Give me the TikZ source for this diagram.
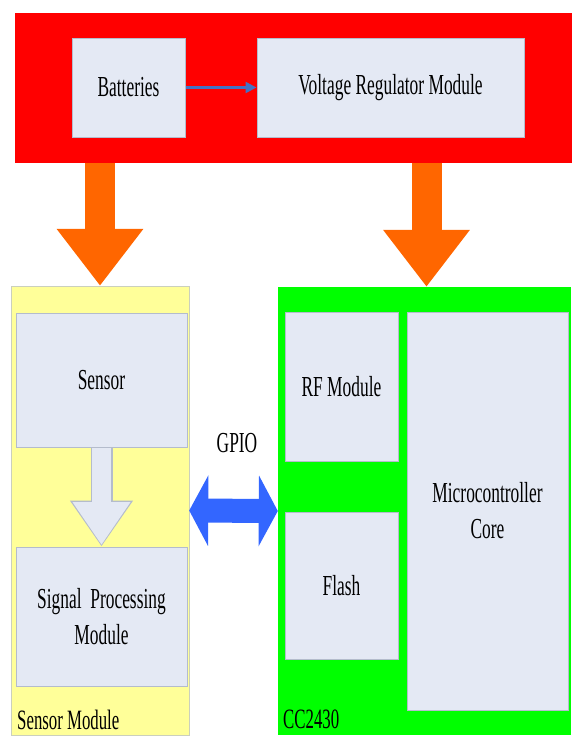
\documentclass[tikz,border=0pt]{standalone}
\usepackage{fontspec}
\setmainfont[FakeStretch=0.6]{Liberation Serif}
\usetikzlibrary{arrows.meta,calc}
\definecolor{boxfill}{RGB}{228,233,244}
\definecolor{boxline}{RGB}{180,188,204}
\definecolor{redbg}{RGB}{255,0,0}
\definecolor{yellowbg}{RGB}{255,255,153}
\definecolor{greenbg}{RGB}{0,255,0}
\definecolor{orangearr}{RGB}{255,102,0}
\definecolor{bluearr}{RGB}{51,102,255}
\definecolor{linkblue}{RGB}{68,114,196}
\tikzset{
  blk/.style={draw=boxline, line width=1pt, fill=boxfill, inner sep=0pt, align=center,
    font=\fontsize{29}{36}\selectfont},
  lbl/.style={inner sep=0pt, font=\fontsize{28}{34}\selectfont},
  power/.style={orangearr, line width=30pt, -{Triangle[width=83pt,length=57pt]}},
}
\begin{document}
\begin{tikzpicture}[x=1pt,y=-1pt]
\useasboundingbox (0,0) rectangle (571,736);
% containers
\node[fill=redbg, inner sep=0pt, minimum width=557pt, minimum height=150pt] (power) at (293.5,88) {};
\node[fill=yellowbg, draw=boxline!70!yellowbg, inner sep=0pt, minimum width=178pt, minimum height=449pt] (smod) at (100,510.5) {};
\node[fill=greenbg, inner sep=0pt, minimum width=293pt, minimum height=448pt] (cc) at (424.5,511) {};
% inner blocks
\node[blk, minimum width=113pt, minimum height=99pt] (bat) at (128.5,87.5) {Batteries};
\node[blk, minimum width=267pt, minimum height=99pt] (vr) at (390.5,87.5) {Voltage Regulator Module};
\node[blk, minimum width=171pt, minimum height=134pt] (sensor) at (101.5,380) {Sensor};
\node[blk, minimum width=171pt, minimum height=139pt] (sig) at (101.5,616.5) {Signal\ \ Processing\\Module};
\node[blk, minimum width=113pt, minimum height=149pt] (rf) at (341.5,386.5) {RF Module};
\node[blk, minimum width=113pt, minimum height=147pt] (flash) at (341.5,585.5) {Flash};
\node[blk, minimum width=161pt, minimum height=398pt] (mcu) at (487.5,511) {Microcontroller\\Core};
% labels
\node[lbl, anchor=base west] (smodlbl) at (17,729) {Sensor Module};
\node[lbl, anchor=base west] (cclbl) at (283,728) {CC2430};
\node[lbl, font=\fontsize{29}{36}\selectfont] (gpio) at (237,443) {GPIO};
% connectors
\draw[linkblue, line width=2.5pt, -{Triangle[width=11pt,length=11pt]}] (bat.east) -- (vr.west);
\draw[power] (smod.north |- power.south) -- (smod.north);
\draw[power] ($(cc.north |- power.south)+(2,0)$) -- ($(cc.north)+(2,0)$);
\draw[boxline, line width=22pt, -{Triangle[width=60pt,length=46pt]}] (sensor.south) -- (sig.north);
\draw[boxfill, line width=19pt, -{Triangle[width=55pt,length=43pt]}] (sensor.south) -- ($(sig.north)+(0,-1.5)$);
\draw[bluearr, line width=24pt, {Triangle[width=70pt,length=19pt]}-{Triangle[width=70pt,length=19pt]}] (smod.east) -- (cc.west);
\end{tikzpicture}
\end{document}
